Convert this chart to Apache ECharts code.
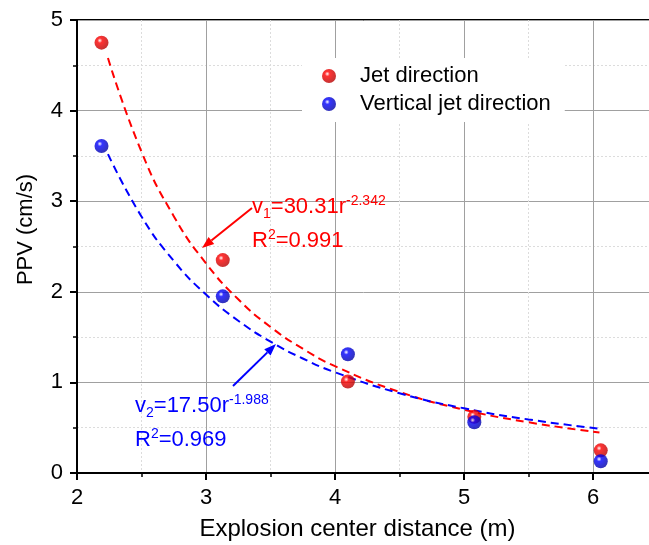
<!DOCTYPE html>
<html>
<head>
<meta charset="utf-8">
<script src="https://cdn.jsdelivr.net/npm/echarts@6/dist/echarts.min.js"></script>
<style>
html,body{margin:0;padding:0;background:#fff;overflow:hidden;}
#chart{width:649px;height:545px;}
</style>
</head>
<body>
<div id="chart"></div>
<script>
// ---- data ----
var distance = [2.19, 3.13, 4.10, 5.08, 6.06];
var jetPPV = [4.75, 2.35, 1.01, 0.62, 0.25];
var verticalPPV = [3.61, 1.95, 1.31, 0.56, 0.13];

// fitted curves
var fitX = [2.24, 2.5, 2.75, 3.0, 3.25, 3.5, 3.75, 4.0, 4.5, 5.0, 5.5, 6.05];
var fitJet = [4.58, 3.545, 2.835, 2.314, 1.917, 1.612, 1.372, 1.179, 0.895, 0.699, 0.560, 0.447];
var fitVertical = [3.52, 2.831, 2.342, 1.970, 1.681, 1.450, 1.264, 1.112, 0.880, 0.714, 0.591, 0.489];

var xTicks = [2, 3, 4, 5, 6];
var yTicks = [0, 1, 2, 3, 4, 5];

var seriesNames = ['Jet direction', 'Vertical jet direction'];

function pairs(xs, ys) { return xs.map(function (x, i) { return [x, ys[i]]; }); }

function sphere(base, dark) {
  return {
    type: 'radial', x: 0.38, y: 0.35, r: 0.7,
    colorStops: [
      { offset: 0, color: '#ffffff' },
      { offset: 0.25, color: base },
      { offset: 1, color: dark }
    ]
  };
}

var FONT = 'Liberation Sans, Arial, sans-serif';
var chart = echarts.init(document.getElementById('chart'), null, { renderer: 'canvas' });

var option = {
  backgroundColor: '#fff',
  animation: false,
  grid: {
    left: 77, top: 20, width: 645, height: 453,
    outerBoundsMode: 'none',
    containLabel: false,
    show: true, borderColor: '#000', borderWidth: 2, backgroundColor: 'transparent'
  },
  legend: {
    orient: 'vertical',
    left: 302, top: 58,
    padding: [7, 14, 7, 20],
    itemGap: 6,
    itemWidth: 14, itemHeight: 14,
    backgroundColor: '#fff',
    textStyle: { fontFamily: FONT, fontSize: 22, color: '#000', padding: [0, 0, 0, 19] },
    data: [
      { name: seriesNames[0], icon: 'circle' },
      { name: seriesNames[1], icon: 'circle' }
    ]
  },
  xAxis: {
    type: 'value', min: 2, max: 7, interval: 1,
    name: 'Explosion center distance (m)',
    nameLocation: 'middle', nameGap: 44,
    nameTextStyle: { fontFamily: FONT, fontSize: 24, color: '#000', padding: [0, 84, 0, 0] },
    axisLine: { onZero: false, lineStyle: { color: '#000', width: 2 } },
    axisTick: { show: true, inside: false, length: 7, lineStyle: { color: '#000', width: 2 } },
    minorTick: { show: true, splitNumber: 2, length: 4, lineStyle: { color: '#000', width: 1.5 } },
    axisLabel: {
      fontFamily: FONT, fontSize: 22, color: '#000', margin: 14,
      formatter: function (v) { return xTicks.indexOf(v) >= 0 ? String(v) : ''; }
    },
    splitLine: { show: true, lineStyle: { color: '#a0a0a0', width: 1 } },
    minorSplitLine: { show: true, lineStyle: { color: '#dcdcdc', width: 1, type: [2, 2] } }
  },
  yAxis: {
    type: 'value', min: 0, max: 5, interval: 1,
    name: 'PPV (cm/s)',
    nameLocation: 'middle', nameGap: 40,
    nameTextStyle: { fontFamily: FONT, fontSize: 22, color: '#000', padding: [0, 0, 0, 34] },
    axisLine: { onZero: false, lineStyle: { color: '#000', width: 2 } },
    axisTick: { show: true, inside: false, length: 7, lineStyle: { color: '#000', width: 2 } },
    minorTick: { show: true, splitNumber: 2, length: 4, lineStyle: { color: '#000', width: 1.5 } },
    axisLabel: {
      fontFamily: FONT, fontSize: 22, color: '#000', margin: 14,
      formatter: function (v) { return yTicks.indexOf(v) >= 0 ? String(v) : ''; }
    },
    splitLine: { show: true, lineStyle: { color: '#a0a0a0', width: 1 } },
    minorSplitLine: { show: true, lineStyle: { color: '#dcdcdc', width: 1, type: [2, 2] } }
  },
  series: [
    {
      name: 'fit-jet', type: 'line', data: pairs(fitX, fitJet),
      smooth: true, showSymbol: false, symbol: 'none', z: 3,
      lineStyle: { color: '#ff0000', width: 2, type: [8, 5] }
    },
    {
      name: 'fit-vertical', type: 'line', data: pairs(fitX, fitVertical),
      smooth: true, showSymbol: false, symbol: 'none', z: 3,
      lineStyle: { color: '#0000ff', width: 2, type: [8, 5] }
    },
    {
      name: seriesNames[0], type: 'scatter', data: pairs(distance, jetPPV),
      symbol: 'circle', symbolSize: 14, z: 5,
      itemStyle: { color: sphere('#ff0000', '#b00000') }
    },
    {
      name: seriesNames[1], type: 'scatter', data: pairs(distance, verticalPPV),
      symbol: 'circle', symbolSize: 14, z: 5,
      itemStyle: { color: sphere('#0000ff', '#0000a0') }
    }
  ]
};
chart.setOption(option);

function arrow(x1, y1, x2, y2, color) {
  var ang = Math.atan2(y2 - y1, x2 - x1);
  var L = 12, W = 4.5;
  var bx = x2 - L * Math.cos(ang), by = y2 - L * Math.sin(ang);
  var px = -Math.sin(ang), py = Math.cos(ang);
  return [
    { type: 'line', shape: { x1: x1, y1: y1, x2: bx, y2: by }, style: { stroke: color, lineWidth: 2 }, z: 10 },
    { type: 'polygon', shape: { points: [[x2, y2], [bx + px * W, by + py * W], [bx - px * W, by - py * W]] }, style: { fill: color }, z: 10 }
  ];
}

function label(x, y, rich, color, txt) {
  return {
    type: 'text', left: x, top: y, z: 10,
    style: { text: txt, rich: rich, fill: color, fontFamily: FONT, fontSize: 22 }
  };
}

function richDef(color) {
  return {
    m: { fontFamily: FONT, fontSize: 22, color: color, lineHeight: 26, verticalAlign: 'bottom' },
    sub: { fontFamily: FONT, fontSize: 14, color: color, lineHeight: 26, verticalAlign: 'bottom', padding: [0, 0, -3, 0] },
    sup: { fontFamily: FONT, fontSize: 14, color: color, lineHeight: 26, verticalAlign: 'top', padding: [2, 0, 0, 0] }
  };
}

var red = '#ff0000', blue = '#0000ff';
var graphics = []
  .concat(arrow(252, 208, 202, 248, red))
  .concat(arrow(233, 386, 276, 344, blue))
  .concat([
    label(252, 192, richDef(red), red, '{m|v}{sub|1}{m|=30.31r}{sup|-2.342}'),
    label(252, 226, richDef(red), red, '{m|R}{sup|2}{m|=0.991}'),
    label(135, 391, richDef(blue), blue, '{m|v}{sub|2}{m|=17.50r}{sup|-1.988}'),
    label(135, 425, richDef(blue), blue, '{m|R}{sup|2}{m|=0.969}')
  ]);
chart.setOption({ graphic: graphics });
</script>
</body>
</html>
